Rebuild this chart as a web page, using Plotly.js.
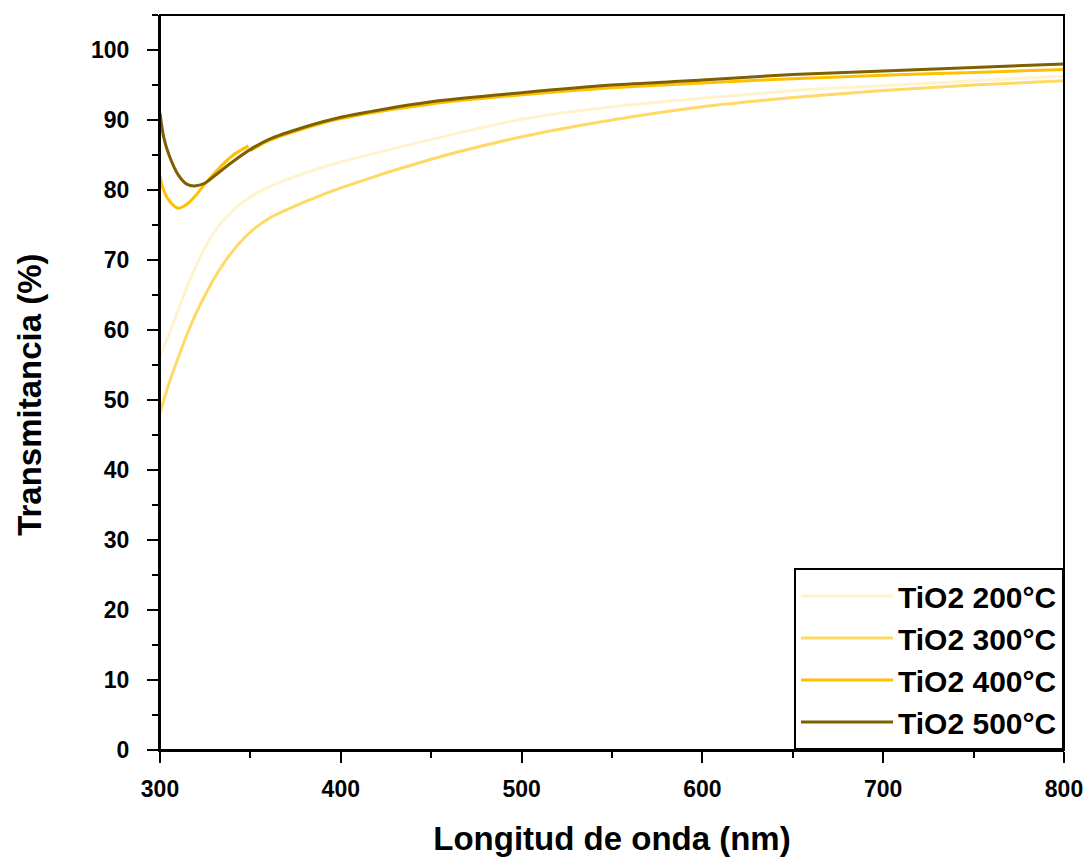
<!DOCTYPE html>
<html>
<head>
<meta charset="utf-8">
<script src="https://cdn.plot.ly/plotly-3.0.1.min.js"></script>
<style>html,body{margin:0;padding:0;background:#fff;}#chart{width:1089px;height:859px;}</style>
</head>
<body>
<div id="chart"></div>
<script>
const seriesNames = ["TiO2 200°C", "TiO2 300°C", "TiO2 400°C", "TiO2 500°C"];
const seriesColors = ["#FFF2CC", "#FFD966", "#FFC000", "#7F6000"];
const xTitle = "Longitud de onda (nm)";
const yTitle = "Transmitancia (%)";

const wl = [300, 302, 305, 310, 315, 320, 325, 330, 340, 350, 360, 380, 400, 450, 500, 550, 600, 650, 700, 750, 800];
const t200 = [56.3, 57.5, 59.4, 62.8, 66.2, 69.2, 71.8, 74.0, 77.0, 79.0, 80.4, 82.4, 84.0, 87.2, 90.1, 91.9, 93.1, 94.2, 94.9, 95.6, 96.3];
const t300 = [48.2, 49.9, 52.4, 56.0, 59.4, 62.4, 65.0, 67.4, 71.2, 74.0, 75.9, 78.3, 80.3, 84.4, 87.6, 90.0, 91.9, 93.2, 94.2, 95.0, 95.6];
const t500 = [91.0, 87.6, 85.0, 82.2, 80.8, 80.6, 81.0, 82.0, 84.0, 85.8, 87.2, 89.0, 90.4, 92.6, 93.9, 95.0, 95.7, 96.5, 97.0, 97.5, 98.0];

// TiO2 400°C: the record shows a step at 350 nm (detector change), kept as a gap
const wl400 = [300, 302, 305, 310, 315, 320, 325, 330, 340, 349, 349.5, 350, 360, 380, 400, 450, 500, 550, 600, 650, 700, 750, 800];
const t400 = [81.9, 80.0, 78.5, 77.4, 78.0, 79.3, 80.9, 82.4, 84.9, 86.3, null, 85.6, 87.0, 88.8, 90.2, 92.3, 93.6, 94.6, 95.3, 95.9, 96.4, 96.8, 97.2];

const xs = [wl, wl, wl400, wl];
const ys = [t200, t300, t400, t500];

const traces = seriesNames.map((n, i) => ({
  x: xs[i], y: ys[i], name: n, type: "scatter", mode: "lines", connectgaps: false,
  line: {color: seriesColors[i], width: 3, shape: "spline", smoothing: 0.8}
}));

const fontFam = "Liberation Sans, Arial, sans-serif";
const axisCommon = {
  showgrid: false, zeroline: false, showline: true, linecolor: "#000", linewidth: 2,
  mirror: false, ticks: "outside", ticklen: 11, tickwidth: 2, tickcolor: "#000",
  tickfont: {family: fontFam, size: 23, color: "#000", weight: 700}
};

const layout = {
  width: 1089, height: 859,
  margin: {l: 160, r: 25, t: 15, b: 109},
  paper_bgcolor: "#fff", plot_bgcolor: "#fff",
  showlegend: true,
  xaxis: Object.assign({}, axisCommon, {
    range: [300, 800], dtick: 100, tick0: 300, ticklabelstandoff: 6,
    minor: {dtick: 50, ticklen: 6, tickwidth: 2, tickcolor: "#000", ticks: "outside"},
    title: {text: xTitle, font: {family: fontFam, size: 33, color: "#000", weight: 700}, standoff: 26}
  }),
  yaxis: Object.assign({}, axisCommon, {
    range: [0, 105], dtick: 10, tick0: 0, ticklabelstandoff: 13,
    minor: {dtick: 5, ticklen: 6, tickwidth: 2, tickcolor: "#000", ticks: "outside"}
  }),
  annotations: [{
    text: yTitle, textangle: -90, showarrow: false,
    xref: "paper", yref: "paper", x: -0.144, y: 0.483, xanchor: "center", yanchor: "middle",
    font: {family: fontFam, size: 33, color: "#000", weight: 700}
  }],
  shapes: [{
    type: "rect", xref: "paper", yref: "paper", x0: 0, x1: 1, y0: 0, y1: 1,
    line: {color: "#000", width: 2}, fillcolor: "rgba(0,0,0,0)", layer: "above"
  }],
  legend: {
    x: 1, xanchor: "right", y: 0, yanchor: "bottom",
    bordercolor: "#000", borderwidth: 2, bgcolor: "#fff",
    font: {family: fontFam, size: 30, color: "#000", weight: 700},
    itemwidth: 92, tracegroupgap: 0
  }
};

Plotly.newPlot("chart", traces, layout, {displayModeBar: false, staticPlot: true});
</script>
</body>
</html>
